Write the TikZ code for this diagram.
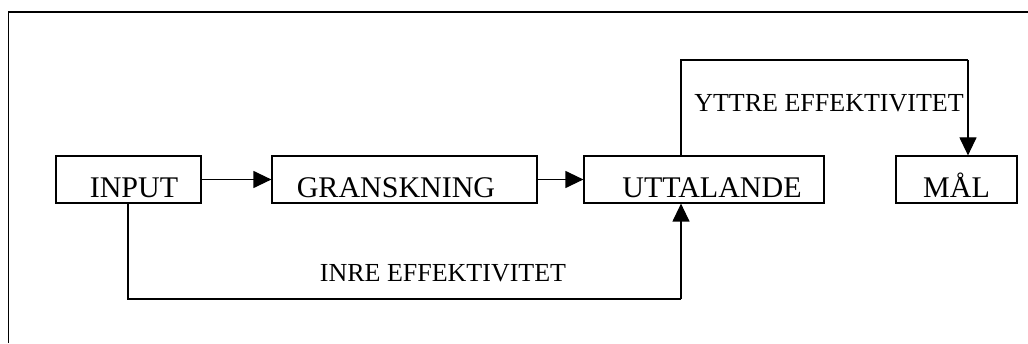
\documentclass[tikz,border=0pt]{standalone}
\usepackage{fontspec}
\setmainfont{Liberation Serif}
\usetikzlibrary{arrows.meta,calc}
\tikzset{
    box/.style={draw, line width=1.2pt, minimum height=47pt, inner sep=0pt,
                text height=37pt, text depth=0pt, align=center,
                font=\fontsize{30}{36}\selectfont},
    flow/.style={-{Triangle[length=18pt,width=17pt]}, line width=1.2pt},
    link/.style={line width=1.2pt},
    note/.style={font=\fontsize{26}{31}\selectfont, align=center},
    frame/.style={line width=1.4pt},
}

\begin{document}
\begin{tikzpicture}[x=1pt,y=1pt]

    \useasboundingbox (0,0) rectangle (1028,343);
    \draw[frame] (8.5,0) -- (8.5,331) -- (1028,331);

    \node[box, minimum width=145pt] (input) at (128.5,163.5) {\hspace*{11pt}INPUT};
    \node[box, minimum width=265pt] (gransk) at (404.5,163.5) {GRANSKNING\hspace*{17pt}};
    \node[box, minimum width=240pt] (uttal) at (704,163.5) {\hspace*{16pt}UTTALANDE};
    \node[box, minimum width=121pt] (mal) at (956.5,163.5) {MÅL};

    \draw[flow] (input.east) -- (gransk.west);
    \draw[flow] (gransk.east) -- (uttal.west);

    % yttre effektivitet
    \coordinate (yttreL) at (681,283);
    \coordinate (yttreR) at (968,283);
    \draw[link] (uttal.north -| yttreL) -- (yttreL) -- (yttreR);
    \draw[flow] (yttreR) -- (yttreR |- mal.north);
    \node[note] (yttre) at (829,239.5) {YTTRE EFFEKTIVITET};

    % inre effektivitet
    \coordinate (inreL) at (128,44);
    \coordinate (inreR) at (681,44);
    \draw[link] (input.south -| inreL) -- (inreL) -- (inreR);
    \draw[flow] (inreR) -- (inreR |- uttal.south);
    \node[note] (inre) at (443,69.5) {INRE EFFEKTIVITET};

\end{tikzpicture}
\end{document}
